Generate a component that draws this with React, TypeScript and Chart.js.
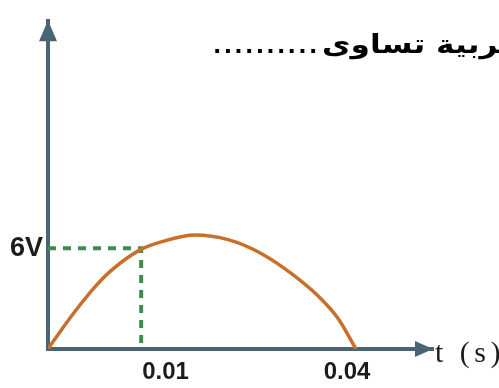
import React, { useEffect, useRef } from "react";
import { Chart, registerables } from "chart.js";

Chart.register(...registerables);

// Curve (time in s, voltage in V)
const timeValues = [0, 0.0018, 0.0039, 0.0061, 0.0083, 0.0119, 0.0148, 0.0191, 0.0234, 0.0278, 0.0321, 0.0356, 0.0377, 0.04];
const voltageValues = [0, 1.18, 2.47, 3.7, 4.71, 5.89, 6.39, 6.79, 6.51, 5.66, 4.32, 2.92, 1.8, 0];

// Dashed guide to the marked point
const markTime = 0.0121;
const markVoltage = 6;

// Axis ticks
const xTickValues = [0.0121, 0.04];
const xTickLabels = ["0.01", "0.04"];
const yTickValues = [6];
const yTickLabels = ["6V"];

const xMax = 0.05;
const yMax = 19.52;

const axisTitleX = "t (s)";
const titleDots = "..........";
const titleWords = "الكهربية تساوى";

const AXIS_COLOR = "#4b6474";
const CURVE_COLOR = "#c76f2b";
const GUIDE_COLOR = "#3f8c4f";
const TEXT_COLOR = "#1c1c1c";

const decorPlugin = {
  id: "decor",
  afterDraw(chart: any) {
    const { ctx, chartArea } = chart;
    const x = chart.scales.x;
    const left = chartArea.left;
    const bottom = chartArea.bottom;
    const top = chartArea.top;
    const right = chartArea.right;
    ctx.save();
    // arrow heads
    ctx.fillStyle = AXIS_COLOR;
    ctx.beginPath();
    ctx.moveTo(left - 9, top + 20);
    ctx.lineTo(left, top - 1);
    ctx.lineTo(left + 9, top + 20);
    ctx.closePath();
    ctx.fill();
    ctx.beginPath();
    ctx.moveTo(right - 18, bottom - 8);
    ctx.lineTo(right, bottom);
    ctx.lineTo(right - 18, bottom + 8);
    ctx.closePath();
    ctx.fill();

    // x tick labels
    ctx.fillStyle = TEXT_COLOR;
    ctx.font = 'bold 24px "Liberation Sans", Arial, sans-serif';
    ctx.textBaseline = "middle";
    const aligns = ["left", "center"];
    const offs = [1, -9];
    xTickValues.forEach((v, i) => {
      ctx.textAlign = aligns[i] || "center";
      ctx.fillText(xTickLabels[i], x.getPixelForValue(v) + (offs[i] || 0), bottom + 23);
    });

    // x axis title
    ctx.font = '30px "Liberation Serif", "Times New Roman", serif';
    ctx.textAlign = "left";
    ctx.textBaseline = "alphabetic";
    (ctx as any).letterSpacing = "4.5px";
    ctx.fillText(axisTitleX, right + 2, bottom + 13);
    (ctx as any).letterSpacing = "0px";

    // Arabic heading (cut by the right edge)
    ctx.fillStyle = "#000";
    ctx.font = 'bold 22px "DejaVu Sans", sans-serif';
    ctx.textBaseline = "alphabetic";
    ctx.direction = "ltr";
    ctx.textAlign = "left";
    (ctx as any).letterSpacing = "2.3px";
    ctx.fillText(titleDots, 213, 53);
    (ctx as any).letterSpacing = "0px";
    ctx.save();
    ctx.translate(322, 53);
    ctx.scale(1.2, 1);
    ctx.font = 'bold 26px "DejaVu Sans", sans-serif';
    ctx.direction = "rtl";
    ctx.textAlign = "left";
    ctx.fillText(titleWords, 0, 0);
    ctx.restore();
    ctx.restore();
  },
};

export default function App() {
  const canvasRef = useRef<HTMLCanvasElement | null>(null);

  useEffect(() => {
    document.body.style.margin = "0";
    const canvas = canvasRef.current;
    if (!canvas) return;
    const chart = new Chart(canvas, {
      type: "line",
      data: {
        datasets: [
          {
            data: timeValues.map((t, i) => ({ x: t, y: voltageValues[i] })),
            borderColor: CURVE_COLOR,
            borderWidth: 3.5,
            pointRadius: 0,
            cubicInterpolationMode: "monotone",
            fill: false,
          },
          {
            data: [
              { x: 0, y: markVoltage },
              { x: markTime, y: markVoltage },
              { x: markTime, y: 0 },
            ],
            borderColor: GUIDE_COLOR,
            borderWidth: 4,
            borderDash: [8, 7],
            pointRadius: 0,
            tension: 0,
            fill: false,
          },
        ],
      },
      options: {
        responsive: false,
        animation: false,
        devicePixelRatio: 1,
        layout: { padding: { left: 0, top: 1, right: 66, bottom: 0 } },
        plugins: { legend: { display: false }, tooltip: { enabled: false }, title: { display: false } },
        scales: {
          x: {
            type: "linear",
            min: 0,
            max: xMax,
            grid: { display: false, drawTicks: false },
            border: { display: true, color: AXIS_COLOR, width: 4 },
            ticks: { display: false },
            afterFit: (s: any) => {
              s.height = 39;
            },
          },
          y: {
            type: "linear",
            min: 0,
            max: yMax,
            grid: { display: false, drawTicks: false },
            border: { display: true, color: AXIS_COLOR, width: 4 },
            afterBuildTicks: (s: any) => {
              s.ticks = yTickValues.map((v) => ({ value: v }));
            },
            ticks: {
              padding: 5,
              color: TEXT_COLOR,
              font: { family: '"Liberation Sans", Arial, sans-serif', weight: "bold", size: 27 },
              callback: (v: any) => {
                const i = yTickValues.indexOf(Number(v));
                return i >= 0 ? yTickLabels[i] : "";
              },
            },
            afterFit: (s: any) => {
              s.width = 48;
            },
          },
        },
      },
      plugins: [decorPlugin],
    });
    return () => chart.destroy();
  }, []);

  return (
    <div style={{ position: "absolute", left: 0, top: 0, width: 499, height: 388, background: "#fff" }}>
      <canvas ref={canvasRef} width={499} height={388} style={{ display: "block" }} />
    </div>
  );
}
